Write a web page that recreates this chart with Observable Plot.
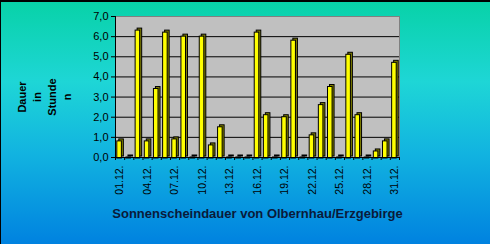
<!DOCTYPE html>
<html>
<head>
<meta charset="utf-8">
<script src="https://cdn.jsdelivr.net/npm/d3@7"></script>
<script src="https://cdn.jsdelivr.net/npm/@observablehq/plot@0.6"></script>
<style>
  html, body { margin: 0; padding: 0; }
  #chart {
    width: 490px; height: 244px; box-sizing: border-box;
    border-top: 2px solid #000; border-left: 1px solid #000;
    background: linear-gradient(to bottom, #08d2a8 0%, #1ed6d6 33%, #12b4e0 62%, #0082e0 100%);
    overflow: hidden;
  }
  #chart svg { display: block; background: transparent; }
</style>
</head>
<body>
<div id="chart"></div>
<script>
// Data: daily sunshine duration (hours), December
const days = d3.range(1, 32);
const hours = [0.8, 0.0, 6.3, 0.8, 3.4, 6.2, 0.9, 6.0, 0.0, 6.0,
               0.6, 1.5, 0.0, 0.0, 0.0, 6.2, 2.1, 0.0, 2.0, 5.8,
               0.0, 1.1, 2.6, 3.5, 0.0, 5.1, 2.1, 0.0, 0.3, 0.8, 4.7];
const xLabelDays = [1, 4, 7, 10, 13, 16, 19, 22, 25, 28, 31];
const xLabelTexts = ["01.12.", "04.12.", "07.12.", "10.12.", "13.12.", "16.12.",
                     "19.12.", "22.12.", "25.12.", "28.12.", "31.12."];
const yTicks = [0, 1, 2, 3, 4, 5, 6, 7];
const yTickLabels = ["0,0", "1,0", "2,0", "3,0", "4,0", "5,0", "6,0", "7,0"];
const gridValues = [1, 2, 3, 4, 5, 6];
const yLabelLines = ["Dauer", "in", "Stunde", "n"];
const title = "Sonnenscheindauer von Olbernhau/Erzgebirge";

const data = days.map((d, i) => ({day: d, value: hours[i]}));
const boundaries = [0.5, ...days.map(d => d + 0.5)];

const chart = Plot.plot({
  width: 489,
  height: 242,
  marginLeft: 114,
  marginRight: 91,
  marginTop: 14,
  marginBottom: 87,
  style: {fontFamily: "'Liberation Sans', Arial, sans-serif", background: "transparent", color: "#000", overflow: "visible"},
  x: {domain: [0.5, 31.5], axis: null, label: null},
  y: {domain: [0, 7], axis: null, label: null},
  marks: [
    Plot.frame({fill: "#c0c0c0", stroke: "#808080"}),
    Plot.ruleY(gridValues, {stroke: "#000", strokeWidth: 1}),
    // back/side face of 3D bars
    Plot.rectY(data, {x1: d => d.day - 0.5, x2: d => d.day + 0.5, y1: 0, y2: "value",
      insetLeft: 1.8, insetRight: 2.8, insetBottom: -1, dx: 2, dy: -2,
      fill: "#808000", stroke: "#000", strokeWidth: 1}),
    // front face
    Plot.rectY(data, {x1: d => d.day - 0.5, x2: d => d.day + 0.5, y1: 0, y2: "value",
      insetLeft: 1.8, insetRight: 2.8, insetBottom: -1,
      fill: "#ffff00", stroke: "#000", strokeWidth: 1}),
    Plot.ruleY([0], {stroke: "#000"}),
    Plot.frame({anchor: "left", stroke: "#000"}),
    Plot.axisY({ticks: yTicks, tickFormat: d => yTickLabels[yTicks.indexOf(d)], label: null,
      tickSize: 4, tickPadding: 3, fontSize: 11, fill: "#000", stroke: "#000"}),
    Plot.axisX({ticks: boundaries, tickFormat: () => "", label: null, tickSize: 3, stroke: "#000"}),
    Plot.axisX({ticks: xLabelDays, tickFormat: d => xLabelTexts[xLabelDays.indexOf(d)], label: null,
      tickSize: 0, tickPadding: 8, tickRotate: -90, fontSize: 10.5, fill: "#000"}),
    Plot.text([yLabelLines.join("\n")], {frameAnchor: "left", rotate: -90, dx: -72, dy: 10,
      lineHeight: 1.35, fontWeight: "bold", fontSize: 11, fill: "#000", textAnchor: "middle"}),
    Plot.text([title], {frameAnchor: "bottom", dy: 60, fontWeight: "bold", fontSize: 13,
      fill: "#0a1a3a", letterSpacing: "0.15px"})
  ]
});
document.getElementById("chart").append(chart);
</script>
</body>
</html>
